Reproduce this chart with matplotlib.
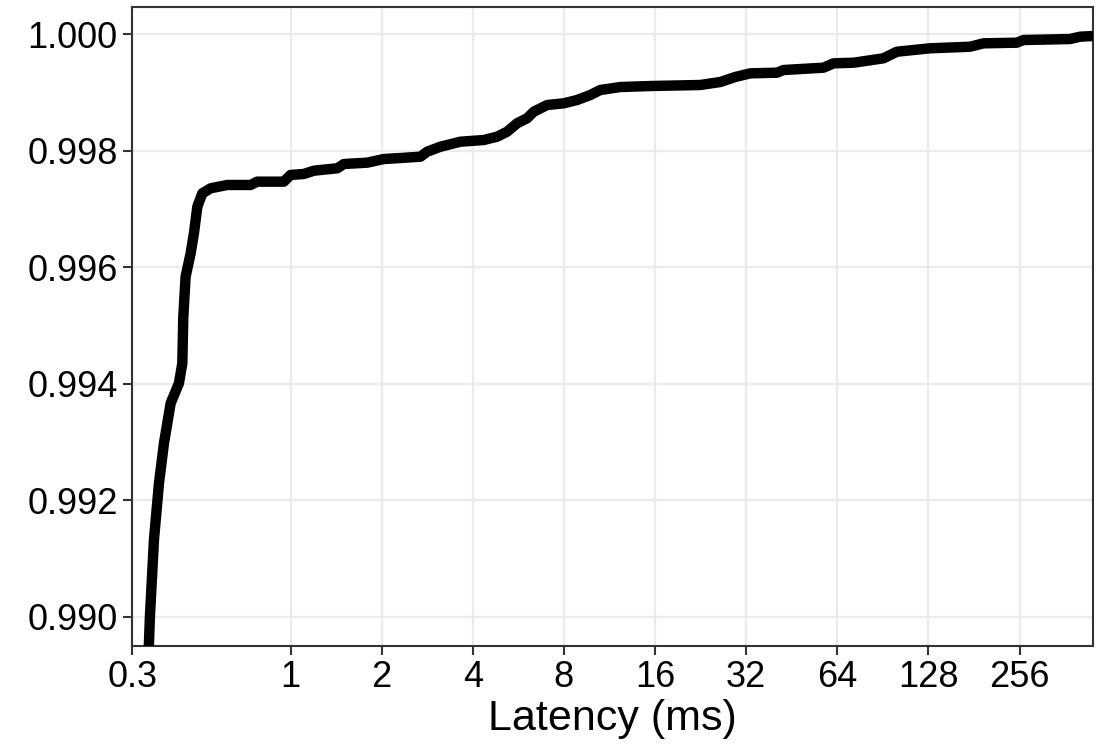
import matplotlib
matplotlib.use("Agg")
import matplotlib.pyplot as plt
from matplotlib.ticker import FixedLocator, FixedFormatter, FormatStrFormatter

plt.rcParams["font.family"] = ["Liberation Sans", "DejaVu Sans"]

# Empirical CDF of request latency (ms -> cumulative fraction)
latency_ms = [
    0.337, 0.3405, 0.343, 0.3537, 0.3675, 0.3817, 0.4016, 0.4278, 0.4389,
    0.4422, 0.4500, 0.4676, 0.4795, 0.4920, 0.511, 0.5446, 0.618, 0.684,
    0.738, 0.776, 0.950, 1.0, 1.106, 1.194, 1.427, 1.500, 1.791, 2.032,
    2.308, 2.687, 2.827, 3.128, 3.640, 4.347, 4.813, 5.193, 5.603, 6.046,
    6.359, 7.04, 7.99, 8.84, 9.78, 10.55, 12.29, 15.44, 22.57, 26.28,
    29.45, 33.01, 40.45, 42.52, 57.63, 62.2, 72.4, 90.9, 100.7, 129.7,
    175.8, 194.5, 250.7, 263.6, 375.9, 405.7, 448.7,
]
cum_fraction = [
    0.98900, 0.989545, 0.990002, 0.991318, 0.992292, 0.992978, 0.993665,
    0.994009, 0.994352, 0.995152, 0.995839, 0.996240, 0.996584, 0.997040,
    0.997270, 0.997356, 0.997413, 0.997413, 0.997413, 0.997470, 0.997470,
    0.997585, 0.997602, 0.997658, 0.997700, 0.997773, 0.997796, 0.997859,
    0.997876, 0.997899, 0.997985, 0.998070, 0.998156, 0.998185, 0.998242,
    0.998328, 0.998472, 0.998558, 0.998671, 0.998786, 0.998815, 0.998872,
    0.998958, 0.999044, 0.999095, 0.999112, 0.999130, 0.999181, 0.999267,
    0.999330, 0.999341, 0.999387, 0.999427, 0.999502, 0.999512, 0.999588,
    0.999701, 0.999760, 0.999787, 0.999845, 0.999856, 0.999902, 0.999919,
    0.999959, 0.999971,
]

x_breaks = [0.3, 1, 2, 4, 8, 16, 32, 64, 128, 256]
x_labels = ["0.3", "1", "2", "4", "8", "16", "32", "64", "128", "256"]
y_breaks = [0.990, 0.992, 0.994, 0.996, 0.998, 1.000]

fig = plt.figure(figsize=(11.04, 7.45), dpi=100)
ax = fig.add_axes([132.3 / 1104, 1 - 645.7 / 745, 961.0 / 1104, 638.7 / 745])

ax.plot(latency_ms, cum_fraction, color="black", linewidth=7.5,
        solid_joinstyle="round", solid_capstyle="butt", zorder=3)

ax.set_xscale("log")
ax.set_xlim(0.3, 448.7)
ax.set_ylim(0.989502, 1.000469)

ax.xaxis.set_major_locator(FixedLocator(x_breaks))
ax.xaxis.set_major_formatter(FixedFormatter(x_labels))
ax.xaxis.set_minor_locator(FixedLocator([]))
ax.yaxis.set_major_locator(FixedLocator(y_breaks))
ax.yaxis.set_major_formatter(FormatStrFormatter("%.3f"))

ax.grid(True, which="major", color="#EBEBEB", linewidth=1.6, zorder=0)
ax.set_axisbelow(True)

for sp in ax.spines.values():
    sp.set_color("#333333")
    sp.set_linewidth(1.5)

ax.tick_params(axis="both", which="major", length=6.5, width=1.5,
               color="#333333", labelsize=26, labelcolor="black")
ax.tick_params(axis="x", pad=4)
ax.tick_params(axis="y", pad=4)

ax.set_xlabel("Latency (ms)", fontsize=31, color="black", labelpad=3)

fig.savefig("out.png", dpi=100, facecolor="white")
